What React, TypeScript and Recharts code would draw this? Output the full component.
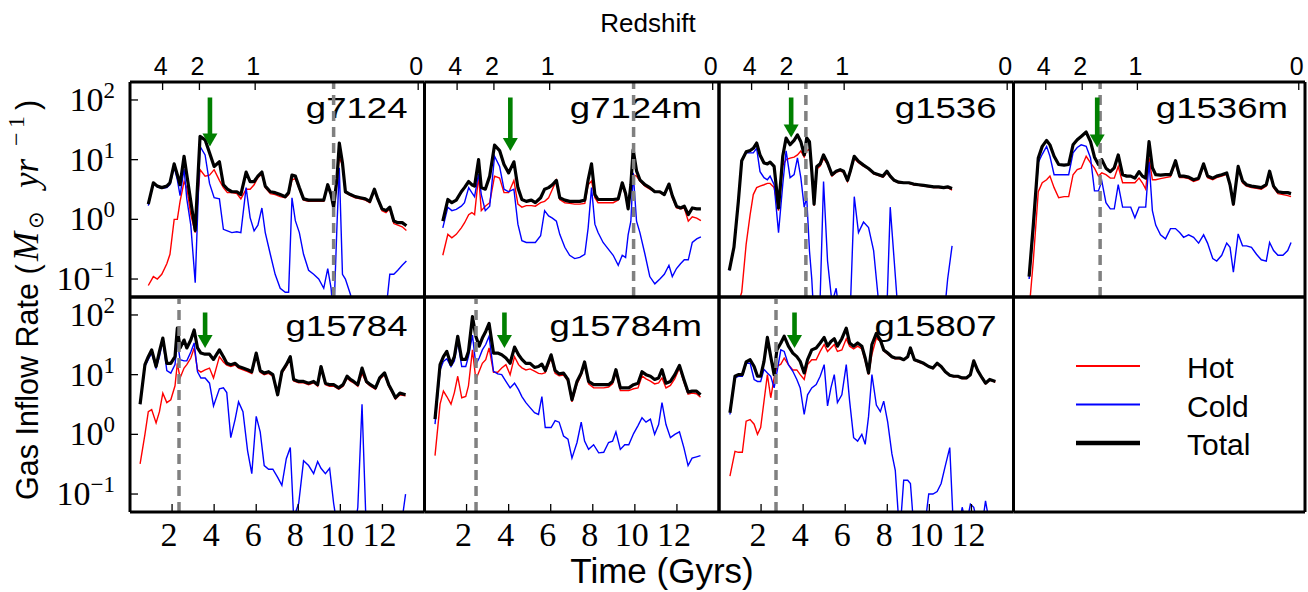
import React from "react";
import { LineChart, Line, XAxis, YAxis, ReferenceLine, Legend } from "recharts";

const SANS = "'Liberation Sans', Arial, sans-serif";
const SERIF = "'Liberation Serif', 'Times New Roman', serif";

// ---- axes ----
const timeTicks = [2, 4, 6, 8, 10, 12];
const redshiftTimes = [1.55, 3.3, 5.95, 13.7];
const redshiftLabels = ["4", "2", "1", "0"];
const decadeTicks = [0.1, 1, 10, 100];
const decadeExponents = ["\u22121", "0", "1", "2"];
const minorTicks = [
  0.06, 0.07, 0.08, 0.09, 0.2, 0.3, 0.4, 0.5, 0.6, 0.7, 0.8, 0.9,
  2, 3, 4, 5, 6, 7, 8, 9, 20, 30, 40, 50, 60, 70, 80, 90, 200,
];
const legendLabels = ["Hot", "Cold", "Total"];

// ---- g7124 ----
const g7124Time = [
  0.87, 1.11, 1.3, 1.51, 1.75, 1.9, 2.1, 2.25, 2.38, 2.57, 2.7, 2.89, 3.1, 3.33, 3.57, 3.78, 4.0, 4.25, 4.44, 4.63,
  4.84, 5.08, 5.27, 5.52, 5.71, 5.9, 6.08, 6.27, 6.43, 6.67, 6.9, 7.14, 7.38, 7.54, 7.7, 7.86, 8.05, 8.25, 8.49, 8.73,
  8.97, 9.21, 9.4, 9.56, 9.68, 9.84, 9.95, 10.1, 10.24, 10.48, 10.71, 10.95, 11.19, 11.4, 11.62, 11.78, 11.98, 12.17, 12.35, 12.54,
  12.73, 12.94, 13.14,
];
const g7124Hot = [
  0.078, 0.11, 0.1, 0.12, 0.18, 0.26, 1.0, 1.0, 2.0, 4.3, 3.4, 1.2, 0.6, 6.8, 5.3, 5.5, 6.8, 4.5, 3.4, 2.8,
  2.8, 2.7, 2.2, 3.2, 3.2, 3.8, 5.0, 5.8, 3.4, 2.7, 2.6, 2.4, 2.3, 2.6, 4.6, 4.8, 3.2, 2.1, 2.0, 2.0,
  2.0, 2.0, 3.6, 2.5, 1.5, 4.2, 11, 8.0, 2.8, 2.5, 2.3, 2.2, 2.1, 1.9, 3.0, 2.1, 1.4, 1.3, 1.5, 0.85,
  0.8, 0.75, 0.65,
];
const g7124Cold = [
  1.7, 4.0, 3.5, 3.3, 3.4, 3.8, 7.5, 4.6, 2.5, 7.0, 2.2, 0.8, 0.087, 16.7, 12, 4.0, 2.3, 2.2, 0.68, 0.64,
  0.6, 0.62, 0.6, 3.4, 1.07, 0.64, 0.8, 1.55, 0.6, 0.26, 0.12, 0.07, 0.06, 0.06, 2.3, 0.95, 0.6, 0.26, 0.14, 0.12,
  0.1, 0.07, 0.15, 0.07, 0.02, 0.8, 7.3, 0.12, 0.1, 0.055, 0.02, 0.02, 0.02, 0.02, 0.02, 0.02, 0.02, 0.03, 0.12, 0.12,
  0.14, 0.17, 0.2,
];
const g7124Total = [
  1.8, 4.1, 3.6, 3.4, 3.6, 4.1, 8.5, 5.6, 3.8, 11.4, 5.6, 2.0, 0.65, 24.5, 21.5, 13, 7.7, 9.2, 3.8, 3.2,
  2.9, 2.9, 2.6, 6.2, 4.3, 4.3, 5.3, 6.2, 3.6, 2.9, 2.8, 2.6, 2.4, 2.8, 5.5, 5.3, 3.4, 2.2, 2.1, 2.1,
  2.1, 2.1, 3.8, 2.6, 1.6, 4.9, 19, 8.8, 2.9, 2.6, 2.4, 2.3, 2.2, 2.0, 3.2, 2.2, 1.5, 1.4, 1.6, 0.94,
  0.88, 0.88, 0.78,
];

// ---- g7124m ----
const g7124mTime = [
  0.87, 1.11, 1.3, 1.51, 1.75, 1.9, 2.1, 2.25, 2.38, 2.57, 2.7, 2.89, 3.1, 3.33, 3.57, 3.78, 4.0, 4.25, 4.44, 4.63,
  4.84, 5.08, 5.27, 5.52, 5.71, 5.9, 6.08, 6.27, 6.43, 6.67, 6.9, 7.14, 7.38, 7.62, 7.78, 7.94, 8.1, 8.25, 8.49, 8.73,
  8.97, 9.21, 9.4, 9.56, 9.68, 9.81, 9.92, 10.08, 10.24, 10.48, 10.71, 10.95, 11.19, 11.4, 11.62, 11.78, 11.98, 12.17, 12.35, 12.54,
  12.73, 12.94, 13.14,
];
const g7124mHot = [
  0.25, 0.56, 0.49, 0.56, 0.72, 0.87, 1.2, 1.3, 1.2, 5.3, 1.4, 1.66, 1.9, 5.3, 4.9, 2.8, 2.8, 4.5, 1.8, 1.6,
  1.7, 1.7, 1.66, 1.9, 2.0, 2.3, 3.2, 4.5, 2.15, 1.9, 1.85, 1.8, 1.8, 1.85, 3.8, 4.4, 2.3, 1.9, 1.9, 1.9,
  1.9, 2.1, 3.8, 2.5, 1.5, 3.4, 5.6, 5.3, 4.4, 3.6, 3.2, 2.9, 2.8, 2.55, 3.7, 2.3, 1.55, 1.5, 1.55, 0.93,
  1.1, 1.05, 0.95,
];
const g7124mCold = [
  0.72, 1.6, 1.4, 1.47, 1.66, 1.9, 3.4, 2.8, 2.4, 5.8, 2.6, 1.4, 1.66, 11.4, 7.7, 3.2, 2.9, 3.2, 0.83, 0.44,
  0.41, 0.41, 0.41, 0.53, 1.4, 1.14, 1.05, 0.93, 0.56, 0.34, 0.25, 0.22, 0.23, 0.26, 0.72, 3.4, 0.83, 0.6, 0.41, 0.32,
  0.25, 0.17, 0.25, 0.23, 0.55, 0.93, 6.0, 0.93, 0.6, 0.26, 0.11, 0.083, 0.1, 0.12, 0.17, 0.11, 0.15, 0.18, 0.21, 0.21,
  0.41, 0.47, 0.51,
];
const g7124mTotal = [
  0.93, 2.15, 1.9, 2.1, 2.9, 3.4, 4.3, 3.8, 3.6, 10, 3.4, 3.2, 5.3, 17.5, 14.2, 8.3, 6.0, 9.2, 3.4, 2.15,
  2.0, 2.1, 1.9, 2.3, 3.2, 3.4, 3.8, 4.5, 2.3, 2.1, 2.0, 2.0, 2.0, 2.1, 4.6, 8.5, 2.6, 2.15, 2.15, 2.15,
  2.15, 2.2, 4.1, 2.7, 1.5, 3.8, 14.7, 6.5, 4.6, 3.8, 3.4, 2.9, 2.9, 2.6, 3.9, 2.5, 1.66, 1.55, 1.66, 1.2,
  1.55, 1.5, 1.5,
];

// ---- g1536 ----
const g1536Time = [
  0.49, 0.71, 0.92, 1.08, 1.29, 1.48, 1.63, 1.79, 1.95, 2.14, 2.3, 2.43, 2.62, 2.83, 3.03, 3.19, 3.38, 3.57, 3.73, 3.89,
  4.05, 4.17, 4.3, 4.41, 4.52, 4.65, 4.81, 4.97, 5.16, 5.37, 5.57, 5.76, 5.92, 6.11, 6.24, 6.43, 6.63, 6.87, 7.11, 7.35,
  7.59, 7.79, 7.98, 8.14, 8.33, 8.54, 8.78, 9.02, 9.25, 9.49, 9.73, 9.97, 10.21, 10.44, 10.68, 10.87, 11.08,
];
const g1536Hot = [
  0.01, 0.02, 0.04, 0.06, 0.38, 1.2, 2.6, 3.4, 3.6, 3.8, 4.0, 4.0, 3.4, 1.4, 8.0, 10, 10.6, 11, 12, 14,
  11, 14, 15, 6.0, 1.7, 7.0, 7.8, 10.5, 8.3, 5.3, 6.1, 6.5, 6.1, 4.3, 6.0, 10.5, 8.9, 7.8, 6.9, 5.8,
  5.4, 5.1, 6.0, 5.1, 4.4, 4.1, 4.0, 4.0, 3.8, 3.7, 3.6, 3.5, 3.4, 3.4, 3.3, 3.4, 3.1,
];
const g1536Cold = [
  0.14, 0.34, 2.0, 9.5, 13, 13, 13, 15.5, 6.3, 5.0, 4.6, 5.3, 3.8, 0.6, 3.8, 14, 5.0, 5.6, 10.7, 5.0,
  1.6, 2.3, 0.3, 0.1, 0.02, 0.03, 0.05, 4.3, 0.2, 0.04, 0.07, 0.02, 0.02, 0.02, 0.03, 2.4, 0.6, 0.9, 0.73, 0.3,
  0.04, 0.02, 0.03, 1.6, 0.2, 0.02, 0.02, 0.02, 0.02, 0.02, 0.02, 0.02, 0.02, 0.02, 0.02, 0.1, 0.36,
];
const g1536Total = [
  0.14, 0.34, 2.0, 9.6, 13.5, 14.2, 15.5, 19, 12, 8.8, 8.5, 9.1, 7.7, 1.55, 11.4, 23, 17.8, 21, 26, 20,
  12, 23, 20, 6.5, 1.8, 7.7, 8.5, 12, 8.8, 5.6, 6.4, 6.8, 6.4, 4.5, 6.4, 11.4, 9.4, 8.1, 7.1, 6.0,
  5.6, 5.3, 6.4, 5.3, 4.5, 4.2, 4.1, 4.1, 3.9, 3.8, 3.7, 3.6, 3.5, 3.5, 3.4, 3.5, 3.3,
];

// ---- g1536m ----
const g1536mTime = [
  0.75, 0.95, 1.19, 1.38, 1.59, 1.75, 1.95, 2.17, 2.43, 2.65, 2.86, 3.06, 3.25, 3.49, 3.7, 3.89, 4.08, 4.24, 4.44, 4.65,
  4.84, 5.03, 5.24, 5.44, 5.63, 5.83, 6.03, 6.19, 6.35, 6.51, 6.67, 6.83, 7.06, 7.3, 7.54, 7.78, 7.98, 8.17, 8.41, 8.65,
  8.89, 9.13, 9.32, 9.57, 9.76, 10.0, 10.24, 10.4, 10.56, 10.79, 11.0, 11.19, 11.43, 11.67, 11.9, 12.14, 12.3, 12.49, 12.7, 12.94,
  13.17, 13.33,
];
const g1536mHot = [
  0.03, 0.2, 2.9, 4.1, 4.6, 5.3, 3.4, 2.3, 2.4, 2.4, 5.6, 6.8, 7.2, 11.4, 8.8, 7.2, 5.3, 6.0, 5.6, 4.9,
  4.9, 7.7, 4.1, 4.1, 4.1, 4.1, 4.9, 4.1, 3.2, 10.6, 4.6, 4.6, 4.8, 5.0, 5.2, 8.8, 5.0, 5.0, 4.8, 4.3,
  4.6, 8.0, 5.0, 4.6, 5.0, 5.3, 5.7, 3.6, 1.7, 7.3, 4.1, 3.6, 3.4, 3.3, 3.2, 3.6, 6.0, 3.4, 2.7, 2.6,
  2.5, 2.4,
];
const g1536mCold = [
  0.1, 0.6, 9, 12.3, 16.7, 11.4, 5.6, 5.6, 5.6, 5.6, 13, 16, 17.7, 16.7, 10.7, 3.0, 3.0, 4.4, 1.9, 1.5,
  1.5, 3.8, 1.6, 1.6, 1.6, 1.06, 1.6, 1.6, 1.6, 9.2, 1.4, 0.8, 0.55, 0.47, 0.7, 0.7, 0.6, 0.5, 0.55, 0.5,
  0.4, 0.55, 0.4, 0.22, 0.2, 0.25, 0.4, 0.34, 0.13, 0.57, 0.36, 0.36, 0.34, 0.26, 0.21, 0.2, 0.41, 0.3, 0.25, 0.25,
  0.3, 0.41,
];
const g1536mTotal = [
  0.11, 0.8, 10.7, 16.7, 21, 17.7, 11.4, 8.3, 8.1, 8.3, 17.7, 21.5, 24.5, 29, 20, 11, 8.3, 10, 7.2, 6.3,
  7.3, 12, 5.6, 5.3, 5.3, 4.9, 6.3, 5.3, 4.9, 20, 7.3, 5.6, 5.5, 5.6, 5.6, 9.6, 5.3, 5.3, 5.1, 4.6,
  4.9, 8.5, 5.3, 4.9, 5.3, 5.6, 6.0, 3.8, 1.8, 7.7, 4.4, 3.8, 3.6, 3.5, 3.4, 3.8, 6.4, 3.6, 2.9, 2.8,
  2.8, 2.7,
];

// ---- g15784 ----
const g15784Time = [
  0.48, 0.71, 0.87, 1.03, 1.24, 1.4, 1.56, 1.75, 1.94, 2.14, 2.25, 2.38, 2.57, 2.7, 2.89, 3.05, 3.21, 3.37, 3.57, 3.78,
  3.97, 4.25, 4.44, 4.6, 4.79, 5.0, 5.16, 5.37, 5.59, 5.79, 6.0, 6.19, 6.38, 6.59, 6.79, 7.02, 7.22, 7.43, 7.62, 7.78,
  8.02, 8.25, 8.49, 8.73, 8.92, 9.08, 9.29, 9.49, 9.68, 9.92, 10.13, 10.32, 10.48, 10.63, 10.83, 11.03, 11.24, 11.43, 11.67, 11.87,
  12.1, 12.3, 12.46, 12.62, 12.83, 13.1,
];
const g15784Hot = [
  0.32, 1.0, 2.4, 2.6, 1.55, 2.4, 4.9, 3.4, 3.8, 6.5, 15.5, 8.8, 12.9, 14.7, 19, 28, 12, 11, 12, 12.9,
  8.8, 20, 16.3, 14.5, 13.7, 14.5, 12.9, 12, 11.3, 10.5, 21, 11, 10, 10.5, 9.4, 4.4, 10.5, 13.8, 18.5, 7.8,
  7.3, 7.3, 6.8, 7.3, 6.4, 12.9, 6.8, 6.4, 6.4, 5.7, 6.4, 8.8, 7.8, 7.3, 6.4, 10.5, 7.3, 6.4, 5.7, 8.3,
  10.1, 6.4, 5.0, 3.9, 4.6, 4.4,
];
const g15784Cold = [
  3.2, 13.7, 18, 23, 12.9, 20, 38, 11.7, 10.6, 14.7, 36, 17.8, 17, 17, 24, 34, 11.2, 8.8, 8.8, 7.2,
  3.0, 5.8, 6.0, 5.0, 0.88, 1.8, 3.5, 2.4, 0.53, 0.22, 2.0, 1.1, 0.3, 0.26, 0.26, 0.19, 0.14, 0.39, 0.6, 0.04,
  0.07, 0.36, 0.3, 0.22, 0.35, 0.27, 0.22, 0.27, 0.07, 0.02, 0.02, 0.02, 0.02, 0.02, 0.06, 3.2, 0.02, 0.02, 0.02, 0.02,
  0.02, 0.02, 0.02, 0.02, 0.02, 0.1,
];
const g15784Total = [
  3.2, 14.7, 20, 26, 13.7, 24.5, 41, 15.5, 15.5, 20, 60, 28, 38, 28, 38, 56, 28, 23, 22, 22,
  18, 26, 20, 15.5, 14.7, 15.5, 13.7, 12.9, 12.1, 11.2, 23, 11.7, 10.6, 11.2, 10, 4.6, 11.2, 14.7, 20, 8.3,
  7.7, 7.7, 7.2, 7.7, 6.8, 13.7, 7.2, 6.8, 6.8, 6.0, 6.8, 9.4, 8.3, 7.7, 6.8, 12.9, 7.7, 6.8, 6.0, 8.8,
  10.7, 6.8, 5.3, 4.1, 4.9, 4.6,
];

// ---- g15784m ----
const g15784mTime = [
  0.5, 0.74, 0.9, 1.06, 1.26, 1.42, 1.58, 1.77, 1.96, 2.09, 2.28, 2.44, 2.6, 2.75, 2.91, 3.07, 3.28, 3.48, 3.67, 3.87,
  4.07, 4.28, 4.47, 4.63, 4.82, 5.02, 5.23, 5.42, 5.58, 5.74, 6.02, 6.21, 6.4, 6.61, 6.82, 7.01, 7.25, 7.45, 7.61, 7.8,
  8.04, 8.28, 8.52, 8.75, 8.94, 9.1, 9.31, 9.52, 9.71, 9.94, 10.15, 10.34, 10.53, 10.74, 10.94, 11.13, 11.29, 11.48, 11.69, 11.9,
  12.12, 12.33, 12.53, 12.72, 12.93, 13.12,
];
const g15784mHot = [
  0.44, 3.2, 5.3, 4.3, 3.2, 5.0, 9.4, 4.1, 4.3, 6.5, 26, 8.3, 11.4, 15.5, 17.8, 28, 11, 11, 12.9, 14.7,
  10, 20, 14.7, 13, 12, 12.5, 11.5, 10.5, 10.3, 10.8, 19, 10.5, 9.6, 9.8, 7.8, 3.5, 7.0, 9.8, 15, 7.0,
  6.0, 6.0, 6.0, 6.2, 7.0, 11, 5.4, 5.4, 5.4, 5.8, 6.0, 9.5, 8.5, 7.8, 7.0, 7.3, 8.8, 6.0, 6.6, 8.6,
  13, 7.5, 4.7, 4.9, 4.8, 4.2,
];
const g15784mCold = [
  1.48, 12, 16.7, 18.5, 13.7, 17, 36, 13.7, 13.7, 20, 46, 14.7, 19, 26, 32, 44, 11.4, 10.3, 10, 7.7,
  6.0, 7.2, 5.6, 4.3, 3.4, 2.8, 2.3, 2.15, 4.3, 1.3, 1.3, 1.7, 1.6, 0.94, 0.83, 0.4, 0.73, 1.6, 0.77, 0.56,
  0.67, 0.49, 0.5, 0.73, 0.77, 1.1, 0.56, 0.67, 0.67, 1.03, 1.4, 1.9, 1.6, 1.8, 1.0, 1.46, 3.4, 1.46, 0.88, 1.0,
  1.1, 0.6, 0.3, 0.4, 0.42, 0.44,
];
const g15784mTotal = [
  1.8, 14.7, 20, 24.5, 14.7, 20, 44, 18, 18, 24.5, 94, 44, 30, 41, 53, 72, 23, 23, 21.5, 19,
  15.5, 29, 21.5, 18, 15.5, 15.5, 13.2, 13.7, 15, 11.7, 21.5, 11.7, 10.3, 10.6, 8.3, 3.8, 7.7, 10.6, 16.3, 7.7,
  6.8, 6.8, 6.8, 6.8, 7.7, 12.1, 6.0, 6.0, 6.0, 6.8, 7.2, 11.2, 10, 9.4, 8.3, 8.8, 12.1, 7.2, 7.7, 10,
  14.3, 8.3, 5.1, 5.3, 5.3, 4.6,
];

// ---- g15807 ----
const g15807Time = [
  0.52, 0.76, 0.92, 1.11, 1.29, 1.48, 1.67, 1.83, 1.98, 2.14, 2.3, 2.46, 2.62, 2.75, 2.94, 3.1, 3.3, 3.51, 3.7, 3.86,
  4.05, 4.21, 4.41, 4.62, 4.81, 5.0, 5.16, 5.32, 5.48, 5.63, 5.84, 6.05, 6.21, 6.4, 6.59, 6.79, 6.95, 7.11, 7.27, 7.48,
  7.67, 7.83, 8.02, 8.22, 8.38, 8.59, 8.78, 8.97, 9.1, 9.29, 9.49, 9.73, 9.97, 10.17, 10.37, 10.56, 10.76, 10.97, 11.16, 11.35,
  11.56, 11.76, 11.95, 12.11, 12.3, 12.51, 12.67, 12.87, 13.14,
];
const g15807Hot = [
  0.2, 0.52, 0.5, 0.5, 1.66, 1.77, 1.48, 1.0, 1.3, 3.6, 10, 4.1, 8.8, 13.7, 15, 19, 14.7, 12, 12, 10,
  8.3, 14.7, 17.8, 17.8, 24.5, 32, 24.5, 28, 32, 24.5, 26, 40, 30, 27, 30, 27, 17, 10, 22, 41,
  36, 25, 22, 19.5, 18.5, 18.5, 17.5, 19.5, 27, 17.5, 16.3, 15, 13.5, 12.6, 15, 13.4, 11, 9.6, 9.2, 9.2,
  8.6, 8.6, 9.8, 16.6, 11.4, 8.6, 7.0, 8.1, 7.5,
];
const g15807Cold = [
  2.15, 8.8, 9.4, 9.4, 15.5, 15.5, 8.3, 7.7, 7.7, 12.3, 10.7, 9.4, 6.0, 10.7, 26, 24.5, 14.7, 11.4, 8.3, 6.0,
  2.15, 4.6, 6.0, 6.8, 9.4, 14.7, 3.0, 6.0, 10, 3.4, 4.6, 14.7, 3.6, 0.88, 0.77, 1.0, 0.68, 2.0, 10, 3.1,
  2.4, 3.6, 1.6, 0.47, 0.25, 0.02, 0.17, 0.17, 0.15, 0.02, 0.02, 0.02, 0.1, 0.1, 0.11, 0.15, 0.3, 0.6, 0.02, 0.02,
  0.06, 0.03, 0.068, 0.06, 0.03, 0.03, 0.077, 0.03, 0.02,
];
const g15807Total = [
  2.3, 9.4, 10, 10, 16.3, 17.8, 13.7, 9.4, 9.4, 16.7, 42, 20, 10, 26, 34, 44, 30, 23, 20, 16.7,
  10.7, 17.8, 26, 28, 34, 42, 30, 36, 40, 30, 40, 60, 34, 30, 34, 30, 19, 10.7, 32, 49,
  38, 26, 23, 20, 19, 19, 17.8, 20, 28, 17.8, 16.7, 15.5, 13.7, 12.9, 15.5, 13.7, 11.2, 9.8, 9.4, 9.4,
  8.8, 8.8, 10, 17, 11.7, 8.8, 7.2, 8.3, 7.7,
];

// markers (Gyr / rate), one per panel in panel order
const dashTimes = [9.68, 9.94, 4.13, 4.16, 2.33, 2.45, 2.71];
const arrowTimes = [3.8, 4.08, 3.43, 4.02, 3.57, 3.8, 3.59];
const arrowTips = [16.6, 14, 23.6, 16, 28, 28, 28];
const arrowTop = 110;

// ---- layout ----
const W = 1308;
const H = 592;
const colLeft = [130, 424.5, 719, 1013.5];
const colWidth = [294.5, 294.5, 294.5, 291.5];
const rowTop = [82, 297];
const rowHeight = 215;
const nameBaseline = [118, 336];
const yDomain: [number, number] = [0.05, 200];

const panels = [
  { name: "g7124", col: 0, row: 0, time: g7124Time, hot: g7124Hot, cold: g7124Cold, total: g7124Total },
  { name: "g7124m", col: 1, row: 0, time: g7124mTime, hot: g7124mHot, cold: g7124mCold, total: g7124mTotal },
  { name: "g1536", col: 2, row: 0, time: g1536Time, hot: g1536Hot, cold: g1536Cold, total: g1536Total },
  { name: "g1536m", col: 3, row: 0, time: g1536mTime, hot: g1536mHot, cold: g1536mCold, total: g1536mTotal },
  { name: "g15784", col: 0, row: 1, time: g15784Time, hot: g15784Hot, cold: g15784Cold, total: g15784Total },
  { name: "g15784m", col: 1, row: 1, time: g15784mTime, hot: g15784mHot, cold: g15784mCold, total: g15784mTotal },
  { name: "g15807", col: 2, row: 1, time: g15807Time, hot: g15807Hot, cold: g15807Cold, total: g15807Total },
];

const axisLine = { stroke: "#000", strokeWidth: 3 };
const majorTick = { stroke: "#000", strokeWidth: 1.3 };
const minorTick = { stroke: "#000", strokeWidth: 1 };

const HOT = "#ff0000";
const COLD = "#0000ff";
const TOTAL = "#000000";

function marginFor(col: number, row: number) {
  const left = colLeft[col];
  const top = rowTop[row];
  return { left, top, right: W - left - colWidth[col], bottom: H - top - rowHeight };
}

const decadeTick = (labelX: number) => (props: any) => {
  const { y, payload } = props;
  const exp = decadeExponents[decadeTicks.indexOf(payload.value)];
  return (
    <text x={labelX} y={y + 11} textAnchor="end" fontFamily={SERIF} fontSize={34} fill="#000">
      10
      <tspan dy={-13} fontSize={23}>
        {exp}
      </tspan>
    </text>
  );
};

const timeTick = (props: any) => (
  <text x={props.x - 3} y={546} textAnchor="middle" fontFamily={SERIF} fontSize={34} fill="#000">
    {props.payload.value}
  </text>
);

const redshiftTick = (props: any) => (
  <text x={props.x - 2} y={75} textAnchor="middle" fontFamily={SANS} fontSize={25} fill="#000">
    {redshiftLabels[redshiftTimes.indexOf(props.payload.value)]}
  </text>
);

function Arrow(props: any) {
  const { x1, y1, x2, y2 } = props;
  const head = 13;
  const half = 7.5;
  const shaft = 2.3;
  const yb = y2 - head;
  return (
    <g>
      <rect x={x1 - shaft} y={y1} width={shaft * 2} height={Math.max(0, yb - y1 + 1)} fill="#008000" />
      <polygon points={`${x2 - half},${yb} ${x2 + half},${yb} ${x2},${y2}`} fill="#008000" />
    </g>
  );
}

function Panel({ p, i }: { p: (typeof panels)[number]; i: number }) {
  const rows = p.time.map((t, k) => ({ t, hot: p.hot[k], cold: p.cold[k], total: p.total[k] }));
  const m = marginFor(p.col, p.row);
  return (
    <div style={{ position: "absolute", left: 0, top: 0 }}>
      <LineChart width={W} height={H} data={rows} margin={m}>
        <XAxis
          xAxisId="b"
          dataKey="t"
          type="number"
          domain={[0, 14]}
          allowDataOverflow
          ticks={timeTicks}
          interval={0}
          orientation="bottom"
          mirror
          tickSize={8}
          axisLine={axisLine}
          tickLine={majorTick}
          tick={p.row === 1 ? timeTick : false}
        />
        {p.row === 0 ? (
          <XAxis
            xAxisId="t"
            dataKey="t"
            type="number"
            domain={[0, 14]}
            allowDataOverflow
            ticks={redshiftTimes}
            interval={0}
            orientation="top"
            mirror
            tickSize={8}
            axisLine={axisLine}
            tickLine={majorTick}
            tick={redshiftTick}
          />
        ) : (
          <XAxis xAxisId="t" dataKey="t" type="number" domain={[0, 14]} allowDataOverflow orientation="top" mirror axisLine={axisLine} tickLine={false} tick={false} />
        )}
        <YAxis
          yAxisId="l"
          type="number"
          scale="log"
          domain={yDomain}
          allowDataOverflow
          ticks={decadeTicks}
          interval={0}
          mirror
          tickSize={8}
          axisLine={axisLine}
          tickLine={majorTick}
          tick={p.col === 0 ? decadeTick(m.left - 15) : false}
        />
        <YAxis yAxisId="lm" type="number" scale="log" domain={yDomain} allowDataOverflow ticks={minorTicks} interval={0} mirror tickSize={4} axisLine={false} tickLine={minorTick} tick={false} />
        <YAxis yAxisId="r" orientation="right" type="number" scale="log" domain={yDomain} allowDataOverflow ticks={decadeTicks} interval={0} mirror tickSize={8} axisLine={axisLine} tickLine={majorTick} tick={false} />
        <YAxis yAxisId="rm" orientation="right" type="number" scale="log" domain={yDomain} allowDataOverflow ticks={minorTicks} interval={0} mirror tickSize={4} axisLine={false} tickLine={minorTick} tick={false} />
        <Line xAxisId="b" yAxisId="l" type="linear" dataKey="hot" name="Hot" stroke={HOT} strokeWidth={1.4} dot={false} activeDot={false} isAnimationActive={false} />
        <Line xAxisId="b" yAxisId="l" type="linear" dataKey="cold" name="Cold" stroke={COLD} strokeWidth={1.4} dot={false} activeDot={false} isAnimationActive={false} />
        <Line xAxisId="b" yAxisId="l" type="linear" dataKey="total" name="Total" stroke={TOTAL} strokeWidth={3.2} strokeLinejoin="round" dot={false} activeDot={false} isAnimationActive={false} />
        <ReferenceLine xAxisId="b" yAxisId="l" x={dashTimes[i]} stroke="#808080" strokeWidth={3.5} strokeDasharray="10 6" />
        <ReferenceLine
          xAxisId="b"
          yAxisId="l"
          segment={[
            { x: arrowTimes[i], y: arrowTop },
            { x: arrowTimes[i], y: arrowTips[i] },
          ]}
          shape={Arrow}
        />
      </LineChart>
    </div>
  );
}

function LegendBox() {
  const colors = [HOT, COLD, TOTAL];
  const widths = [2, 2, 4.5];
  return (
    <svg width={230} height={130}>
      {legendLabels.map((label, k) => (
        <g key={label}>
          <line x1={16} x2={80} y1={26 + k * 38.5} y2={26 + k * 38.5} stroke={colors[k]} strokeWidth={widths[k]} />
          <text x={127} y={38 + k * 38.5} fontFamily={SANS} fontSize={30} fill="#000">
            {label}
          </text>
        </g>
      ))}
    </svg>
  );
}

function LegendPanel() {
  const m = marginFor(3, 1);
  return (
    <div style={{ position: "absolute", left: 0, top: 0 }}>
      <LineChart width={W} height={H} data={[]} margin={m}>
        <XAxis xAxisId="b" dataKey="t" type="number" domain={[0, 14]} orientation="bottom" mirror axisLine={axisLine} tickLine={false} tick={false} />
        <XAxis xAxisId="t" dataKey="t" type="number" domain={[0, 14]} orientation="top" mirror axisLine={axisLine} tickLine={false} tick={false} />
        <YAxis yAxisId="l" type="number" domain={[0, 1]} mirror axisLine={axisLine} tickLine={false} tick={false} />
        <YAxis yAxisId="r" orientation="right" type="number" domain={[0, 1]} mirror axisLine={axisLine} tickLine={false} tick={false} />
        <Line xAxisId="b" yAxisId="l" dataKey="hot" name="Hot" stroke={HOT} dot={false} isAnimationActive={false} />
        <Line xAxisId="b" yAxisId="l" dataKey="cold" name="Cold" stroke={COLD} dot={false} isAnimationActive={false} />
        <Line xAxisId="b" yAxisId="l" dataKey="total" name="Total" stroke={TOTAL} dot={false} isAnimationActive={false} />
        <Legend
          layout="vertical"
          align="center"
          verticalAlign="middle"
          wrapperStyle={{ position: "absolute", left: 1060, top: 340, width: 230, height: 130 }}
          content={() => <LegendBox />}
        />
      </LineChart>
    </div>
  );
}

function Titles() {
  return (
    <svg width={W} height={H} style={{ position: "absolute", left: 0, top: 0 }}>
      <text x={648} y={32} textAnchor="middle" fontFamily={SANS} fontSize={26} fill="#000">
        Redshift
      </text>
      <text x={662} y={583} textAnchor="middle" fontFamily={SANS} fontSize={35} fill="#000">
        Time (Gyrs)
      </text>
      <text transform="translate(38,500) rotate(-90)" fontFamily={SANS} fontSize={30.5} fill="#000">
        <tspan x={0} y={0}>Gas Inflow Rate (</tspan>
        <tspan x={239} y={0} fontFamily={SERIF} fontStyle="italic" fontSize={35}>M</tspan>
        <tspan x={271} y={5} fontFamily="'DejaVu Sans', sans-serif" fontSize={21}>{"\u2299"}</tspan>
        <tspan x={312} y={0} fontFamily={SERIF} fontStyle="italic" fontSize={35}>yr</tspan>
        <tspan x={354} y={-14} fontFamily={SERIF} fontSize={24}>{"\u2212"}</tspan>
        <tspan x={372} y={-14} fontFamily={SERIF} fontSize={24}>1</tspan>
        <tspan x={390} y={0}>)</tspan>
      </text>
      {panels.map((p) => (
        <text
          key={p.name}
          transform={`translate(${colLeft[p.col] + colWidth[p.col] - 17},${nameBaseline[p.row]}) scale(1.24,1)`}
          textAnchor="end"
          fontFamily={SANS}
          fontSize={29.5}
          fill="#000"
        >
          {p.name}
        </text>
      ))}
    </svg>
  );
}

export default function App() {
  return (
    <div style={{ position: "absolute", left: 0, top: 0, width: W, height: H, background: "#fff", overflow: "hidden" }}>
      <Titles />
      {panels.map((p, i) => (
        <Panel key={p.name} p={p} i={i} />
      ))}
      <LegendPanel />
    </div>
  );
}
